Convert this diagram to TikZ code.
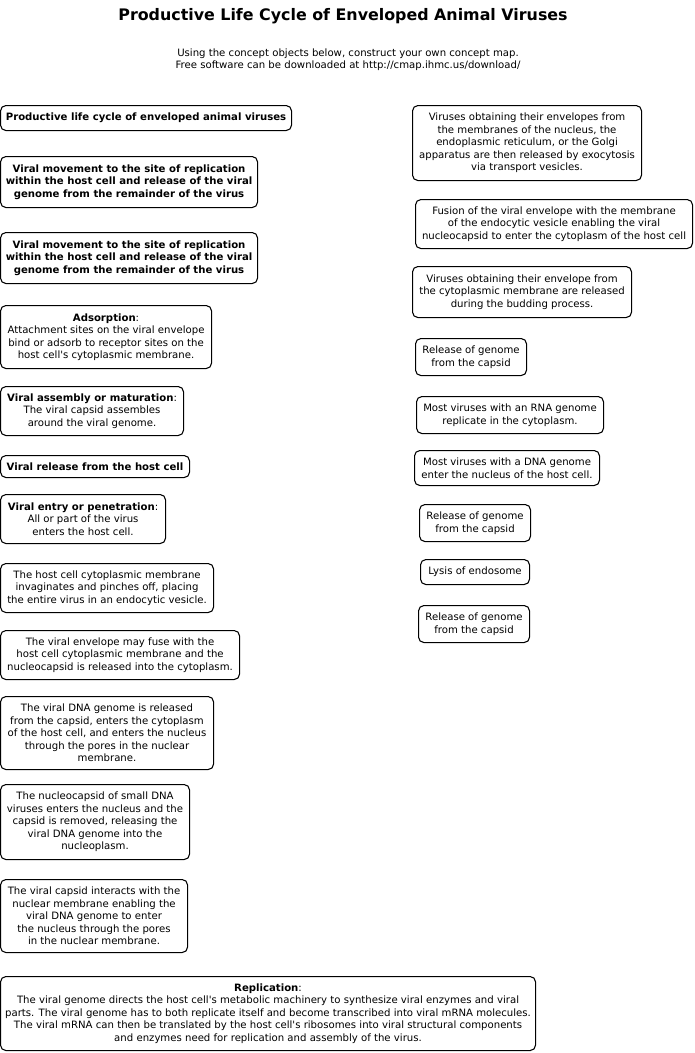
\documentclass[tikz,border=0pt]{standalone}
\usepackage{fontspec}
\setmainfont{DejaVu Sans}
\usetikzlibrary{positioning}
\newcommand{\pxu}{0.75pt}
\newcommand{\ap}{\textquotesingle}
\tikzstyle{concept} = [rectangle, rounded corners=4pt, draw=black, line width=0.8pt, align=center, anchor=north west, inner sep=1pt, font=\fontsize{7.6}{9.4}\selectfont]
\tikzstyle{heading} = [font=\bfseries\fontsize{11.9}{14}\selectfont]
\tikzstyle{note} = [align=center, font=\fontsize{7.6}{9.2}\selectfont]

\begin{document}
\begin{tikzpicture}[x=0.75pt, y=-0.75pt, box/.style 2 args={minimum width=#1*\pxu, minimum height=#2*\pxu}]
    \useasboundingbox (0,0) rectangle (695,1053);
    \node (title) [heading] at (343,16) {Productive Life Cycle of Enveloped Animal Viruses};
    \node (intro) [note] at (348,60) {Using the concept objects below, construct your own concept map.\\Free software can be downloaded at http://cmap.ihmc.us/download/};

    % left column
    \node (cycle) [concept, box={291}{25}] at (0,105) {\bfseries Productive life cycle of enveloped animal viruses};
    \node (move1) [concept, box={257}{51}] at (0,156) {\bfseries Viral movement to the site of replication\\\bfseries within the host cell and release of the viral\\\bfseries genome from the remainder of the virus};
    \node (move2) [concept, box={257}{51}] at (0,232) {\bfseries Viral movement to the site of replication\\\bfseries within the host cell and release of the viral\\\bfseries genome from the remainder of the virus};
    \node (adsorb) [concept, box={211}{63}] at (0,305) {\textbf{Adsorption}:\\Attachment sites on the viral envelope\\bind or adsorb to receptor sites on the\\host cell\ap s cytoplasmic membrane.};
    \node (assembly) [concept, box={183}{49}] at (0,386) {\textbf{Viral assembly or maturation}:\\The viral capsid assembles\\around the viral genome.};
    \node (release) [concept, box={189}{22}] at (0,455) {\bfseries Viral release from the host cell};
    \node (entry) [concept, box={165}{49}] at (0,494) {\textbf{Viral entry or penetration}:\\All or part of the virus\\enters the host cell.};
    \node (invag) [concept, box={213}{49}] at (0,563) {The host cell cytoplasmic membrane\\invaginates and pinches off, placing\\the entire virus in an endocytic vesicle.};
    \node (fuse) [concept, box={239}{49}] at (0,630) {The viral envelope may fuse with the\\host cell cytoplasmic membrane and the\\nucleocapsid is released into the cytoplasm.};
    \node (dnarel) [concept, box={213}{73}] at (0,696) {The viral DNA genome is released\\from the capsid, enters the cytoplasm\\of the host cell, and enters the nucleus\\through the pores in the nuclear\\membrane.};
    \node (small) [concept, box={189}{75}] at (0,784) {The nucleocapsid of small DNA\\viruses enters the nucleus and the\\capsid is removed, releasing the\\viral DNA genome into the\\nucleoplasm.};
    \node (capsid) [concept, box={187}{73}] at (0,879) {The viral capsid interacts with the\\nuclear membrane enabling the\\viral DNA genome to enter\\the nucleus through the pores\\in the nuclear membrane.};
    \node (replic) [concept, box={535}{74}] at (0,976) {\textbf{Replication}:\\The viral genome directs the host cell\ap s metabolic machinery to synthesize viral enzymes and viral\\parts. The viral genome has to both replicate itself and become transcribed into viral mRNA molecules.\\The viral mRNA can then be translated by the host cell\ap s ribosomes into viral structural components\\and enzymes need for replication and assembly of the virus.};

    % right column
    \node (exocyt) [concept, box={229}{75}] at (412,105) {Viruses obtaining their envelopes from\\the membranes of the nucleus, the\\endoplasmic reticulum, or the Golgi\\apparatus are then released by exocytosis\\via transport vesicles.};
    \node (fusion) [concept, box={277}{49}] at (415,199) {Fusion of the viral envelope with the membrane\\of the endocytic vesicle enabling the viral\\nucleocapsid to enter the cytoplasm of the host cell};
    \node (budding) [concept, box={219}{51}] at (412,266) {Viruses obtaining their envelope from\\the cytoplasmic membrane are released\\during the budding process.};
    \node (gen1) [concept, box={111}{37}] at (415,338) {Release of genome\\from the capsid};
    \node (rna) [concept, box={187}{37}] at (416,396) {Most viruses with an RNA genome\\replicate in the cytoplasm.};
    \node (dna) [concept, box={185}{35}] at (414,450) {Most viruses with a DNA genome\\enter the nucleus of the host cell.};
    \node (gen2) [concept, box={111}{37}] at (419,504) {Release of genome\\from the capsid};
    \node (lysis) [concept, box={109}{25}] at (420,559) {Lysis of endosome};
    \node (gen3) [concept, box={111}{37}] at (418,605) {Release of genome\\from the capsid};
\end{tikzpicture}
\end{document}
